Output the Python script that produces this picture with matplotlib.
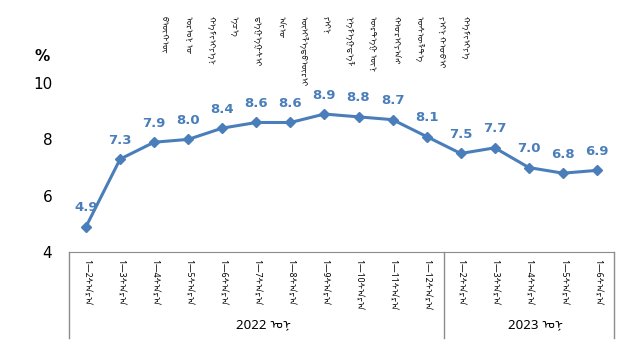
import matplotlib
matplotlib.use("Agg")
import matplotlib.pyplot as plt
import matplotlib.transforms as mtransforms
from matplotlib.lines import Line2D

# Chart data
months = ["1—2", "1—3", "1—4", "1—5", "1—6", "1—7", "1—8", "1—9",
          "1—10", "1—11", "1—12", "1—2", "1—3", "1—4", "1—5", "1—6"]
month_word = "ᠰᠠᠷᠠ"
values = [4.9, 7.3, 7.9, 8.0, 8.4, 8.6, 8.6, 8.9, 8.8, 8.7, 8.1,
          7.5, 7.7, 7.0, 6.8, 6.9]
years = ["2022", "2023"]
year_sizes = [11, 5]
year_word = "ᠣᠨ"
title_words = ["ᠪᠦᠬᠦ", "ᠣᠷᠣᠨ ᠤ", "ᠬᠡᠮᠵᠢᠶᠡᠨ", "ᠡᠴᠡ", "ᠳᠡᠭᠡᠭᠰᠢ", "ᠠᠵᠤ",
               "ᠦᠢᠯᠡᠳᠪᠦᠷᠢ", "ᠶᠢᠨ", "ᠨᠡᠮᠡᠭᠳᠡᠯ", "ᠥᠷᠲᠡᠭ ᠦᠨ", "ᠬᠤᠷᠢᠶᠠᠩ",
               "ᠥᠰᠥᠯᠲᠡ", "ᠶᠢᠨ ᠬᠤᠪᠢ", "ᠬᠡᠮᠵᠢᠶᠡ"]

fonts = ["Noto Sans Mongolian", "DejaVu Sans"]
blue = "#4a7ebb"
edge = "#8c8c8c"

fig = plt.figure(figsize=(6.33, 3.52), dpi=100)
ax = fig.add_axes([0.109, 0.284, 0.861, 0.48])

x = list(range(len(values)))
ax.plot(x, values, color=blue, lw=2.2, marker="D", ms=5.5, zorder=3)
for xi, v in zip(x, values):
    ax.annotate(f"{v:.1f}", (xi, v), xytext=(0, 9), textcoords="offset points",
                ha="center", va="bottom", color=blue, fontsize=9.5,
                fontweight="bold")

ax.set_xlim(-0.5, len(values) - 0.5)
ax.set_ylim(4, 10)
ax.set_yticks([4, 6, 8, 10])
ax.tick_params(axis="y", length=0, labelsize=11, pad=12)
ax.set_xticks(x)
ax.set_xticklabels([m + month_word for m in months], rotation=-90,
                   va="top", ha="center", fontsize=6.2, family=fonts)
ax.tick_params(axis="x", length=0, pad=5)
for s in ["left", "right", "top"]:
    ax.spines[s].set_visible(False)
ax.spines["bottom"].set_color(edge)

ax.text(-0.05, 1.16, "%", transform=ax.transAxes, fontsize=11,
        fontweight="bold", ha="center", va="center")

# group boxes under the axis
trans = mtransforms.blended_transform_factory(ax.transData, ax.transAxes)
bounds = [-0.5]
for n in year_sizes:
    bounds.append(bounds[-1] + n)
for b in bounds:
    ax.add_line(Line2D([b, b], [0, -0.51], transform=trans, color=edge,
                       lw=1, clip_on=False))
for i, yr in enumerate(years):
    xc = (bounds[i] + bounds[i + 1]) / 2 + 0.2
    ax.text(xc, -0.43, yr + " " + year_word, transform=trans, ha="center",
            va="center", fontsize=9.5, family=fonts)

# vertical title
for i, w in enumerate(title_words):
    fig.text(0.261 + i * 0.0364, 0.955, w, rotation=-90, ha="center",
             va="top", fontsize=6, family=fonts)

fig.savefig("out.png", dpi=100)
